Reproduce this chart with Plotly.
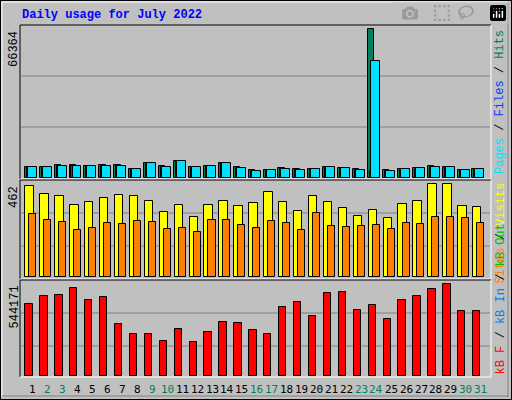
import plotly.graph_objects as go

days = list(range(1, 32))
hits = [4800, 4800, 5700, 5700, 5250, 5700, 5700, 3900, 6600, 5250, 7500, 4800, 5250, 6600, 4800, 3450,
        3450, 4350, 3900, 3900, 4800, 4350, 3900, 66364, 3450, 3900, 4350, 5250, 4800, 3450, 3900]
files = [4500, 4500, 5300, 5300, 4950, 5300, 5300, 3600, 6300, 4950, 7200, 4500, 4950, 6300, 4500, 3150,
         3150, 4050, 3600, 3600, 4500, 4050, 3600, 3300, 3150, 3600, 4050, 4950, 4500, 3150, 3600]
pages = [4750, 4750, 5300, 5300, 5200, 5300, 5300, 3850, 6550, 4800, 7450, 4750, 5200, 6550, 4300, 2950,
         3400, 4000, 3450, 3850, 4750, 4300, 3450, 52400, 2950, 3850, 4300, 4750, 4750, 3400, 3850]
visits = [452, 412, 402, 357, 372, 392, 407, 402, 377, 322, 357, 297, 357, 377, 352, 367,
          422, 372, 327, 402, 372, 342, 302, 332, 292, 362, 377, 462, 462, 352, 347]
sites = [312, 282, 272, 232, 242, 267, 262, 277, 272, 237, 242, 222, 282, 282, 257, 242,
         277, 267, 232, 317, 252, 247, 252, 257, 237, 267, 262, 297, 297, 292, 267]
kbytes = [425000, 472700, 478600, 520300, 448800, 466700, 305800, 252200, 252200, 210500, 276100,
          204600, 264100, 317800, 311800, 270100, 252200, 407100, 436900, 353500, 490500, 496500,
          389300, 419000, 335600, 448800, 472700, 514400, 544171, 383300, 383300]
weekend = [2, 3, 9, 10, 16, 17, 23, 24, 30, 31]

W, H = 512, 400
def px(x): return x / W
def py(y): return 1 - y / H

ln = dict(color="black", width=1)
fig = go.Figure()
fig.add_trace(go.Bar(x=days, y=hits, offset=-0.55, width=0.42, marker=dict(color="#00805C", line=ln), yaxis="y"))
fig.add_trace(go.Bar(x=days, y=files, offset=-0.42, width=0.3, marker=dict(color="#0040FF", line=ln), yaxis="y"))
fig.add_trace(go.Bar(x=days, y=pages, offset=-0.35, width=0.6, marker=dict(color="#00E0FF", line=ln), yaxis="y"))
fig.add_trace(go.Bar(x=days, y=visits, offset=-0.51, width=0.56, marker=dict(color="#FFFF00", line=ln), yaxis="y2"))
fig.add_trace(go.Bar(x=days, y=sites, offset=-0.24, width=0.47, marker=dict(color="#FF8000", line=ln), yaxis="y2"))
fig.add_trace(go.Bar(x=days, y=kbytes, offset=-0.51, width=0.49, marker=dict(color="#FF0000", line=ln), yaxis="y3"))

xdom = [px(20), px(491)]
ax = dict(showgrid=False, zeroline=False, showticklabels=False, ticks="", fixedrange=True)
fig.update_layout(
    width=W, height=H, margin=dict(l=0, r=0, t=0, b=0), showlegend=False,
    paper_bgcolor="#C0C0C0", plot_bgcolor="rgba(0,0,0,0)", barmode="overlay", bargap=0,
    xaxis=dict(domain=xdom, range=[0.13, 31.69], anchor="y3", **ax),
    yaxis=dict(domain=[py(178), py(25)], range=[0, 68283], **ax),
    yaxis2=dict(domain=[py(277), py(180)], range=[0, 483], **ax),
    yaxis3=dict(domain=[py(376), py(280)], range=[0, 569770], **ax),
)

shapes = []
def hline(y, x0, x1, c):
    shapes.append(dict(type="line", xref="paper", yref="paper", x0=px(x0), x1=px(x1), y0=py(y), y1=py(y),
                       line=dict(color=c, width=1), layer="below"))
def vline(x, y0, y1, c):
    shapes.append(dict(type="line", xref="paper", yref="paper", x0=px(x), x1=px(x), y0=py(y0), y1=py(y1),
                       line=dict(color=c, width=1), layer="below"))
# gridlines
for y in [76, 127, 213, 246, 313, 346]:
    hline(y, 21, 490, "#808080")
# panel bevels
for top, bot in [(25, 179), (180, 279), (280, 377)]:
    hline(top, 20, 491, "black"); vline(20, top, bot, "black")
    hline(bot, 20, 491, "white"); vline(491, top, bot, "white")
# outer frame
shapes.append(dict(type="rect", xref="paper", yref="paper", x0=0, x1=1, y0=0, y1=1,
                   line=dict(color="black", width=2)))
hline(2, 2, 509, "white"); vline(2, 2, 397, "white")
hline(396, 2, 509, "#808080"); vline(508, 2, 397, "#808080")
fig.update_layout(shapes=shapes)

mono = "Liberation Mono, DejaVu Sans Mono, monospace"
ann = []
ann.append(dict(text="<b>Daily usage for July 2022</b>", x=px(20), y=py(15), xref="paper", yref="paper",
                xanchor="left", yanchor="middle", showarrow=False, font=dict(family=mono, size=12, color="#0000FF")))
for lab, top in [(str(max(hits)), 29), (str(max(visits)), 184), (str(max(kbytes)), 284)]:
    ann.append(dict(text=lab, x=px(14), y=py(top), xref="paper", yref="paper", textangle=-90,
                    xanchor="center", yanchor="top", showarrow=False, font=dict(family=mono, size=12, color="black")))
ann.append(dict(text='<span style="color:#00E0FF">Pages</span> / <span style="color:#0040FF">Files</span> / '
                     '<span style="color:#00805C">Hits</span>', x=px(500), y=py(28), xref="paper", yref="paper",
                textangle=-90, xanchor="center", yanchor="top", showarrow=False,
                font=dict(family=mono, size=12, color="black")))
ann.append(dict(text='<span style="color:#FF8000">Sites</span> / <span style="color:#FFFF00">Visits</span>',
                x=px(500), y=py(181), xref="paper", yref="paper", textangle=-90, xanchor="center", yanchor="top",
                showarrow=False, font=dict(family=mono, size=12, color="black")))
ann.append(dict(text='<span style="color:#FF0000">kB F</span> / <span style="color:#0080FF">kB In</span> / '
                     '<span style="color:#00C000">kB Out</span>', x=px(500), y=py(377), xref="paper", yref="paper",
                textangle=-90, xanchor="center", yanchor="bottom", showarrow=False,
                font=dict(family=mono, size=12, color="black")))
for d in days:
    ann.append(dict(text=str(d), x=d, y=py(389), xref="x", yref="paper", xanchor="center", yanchor="middle",
                    showarrow=False, font=dict(family="DejaVu Sans Mono", size=11,
                                               color="#00805C" if d in weekend else "black")))
fig.update_layout(annotations=ann)

fig.write_html("out.html", post_script="document.body.style.margin='0';")
